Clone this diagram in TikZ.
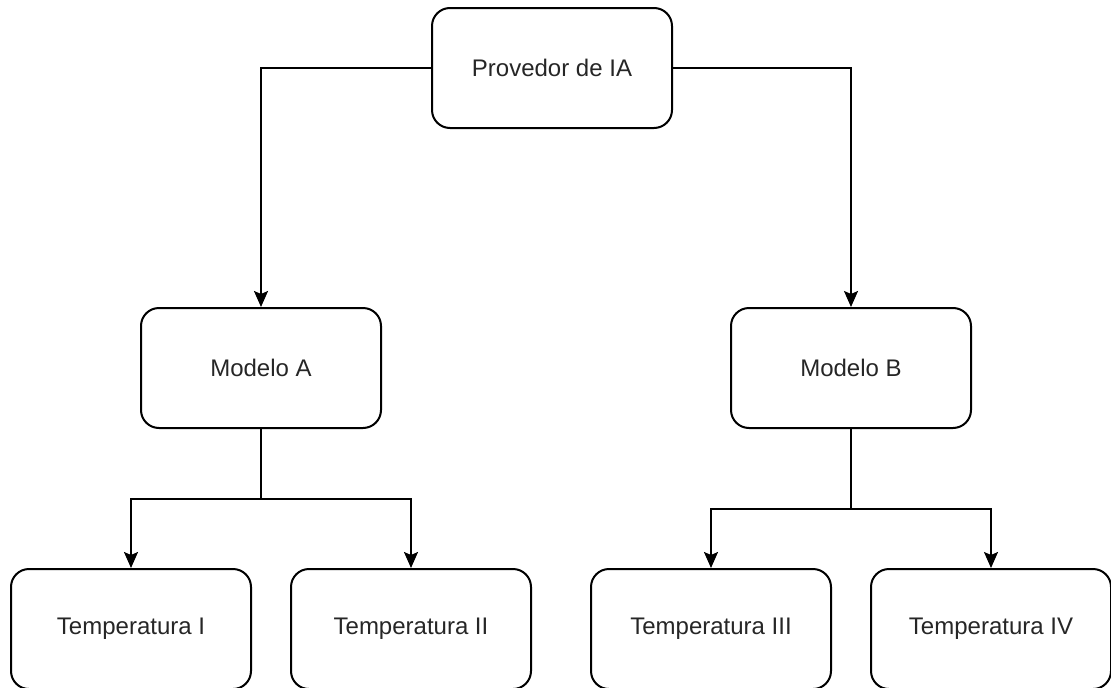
\documentclass[tikz,border=0pt]{standalone}
\usepackage{fontspec}
\setmainfont{Liberation Sans}
\usetikzlibrary{arrows.meta}
\begin{document}
\begin{tikzpicture}[x=1pt,y=-1pt,
  box/.style={draw=black, line width=2pt, rounded corners=18pt, minimum width=240pt, minimum height=120pt, inner sep=0pt, font=\fontsize{24}{28}\selectfont, text=black!85},
  conn/.style={draw=black, line width=2pt},
  arr/.style={conn, -{Stealth[length=16pt, width=14pt, inset=3pt]}}]
\useasboundingbox (0,0) rectangle (1111,688);
\node[box] (p) at (552,68) {Provedor de IA};
\node[box] (a) at (261,368) {Modelo A};
\node[box] (b) at (851,368) {Modelo B};
\node[box] (t1) at (131,629) {Temperatura I};
\node[box] (t2) at (411,629) {Temperatura II};
\node[box] (t3) at (711,629) {Temperatura III};
\node[box] (t4) at (991,629) {Temperatura IV};
\coordinate (sa) at (261,499);
\coordinate (sb) at (851,509);
\draw[arr] (p.west) -| (a.north);
\draw[arr] (p.east) -| (b.north);
\draw[conn] (a.south) -- (sa);
\draw[arr] (sa) -| (t1.north);
\draw[arr] (sa) -| (t2.north);
\draw[conn] (b.south) -- (sb);
\draw[arr] (sb) -| (t3.north);
\draw[arr] (sb) -| (t4.north);
\end{tikzpicture}
\end{document}
